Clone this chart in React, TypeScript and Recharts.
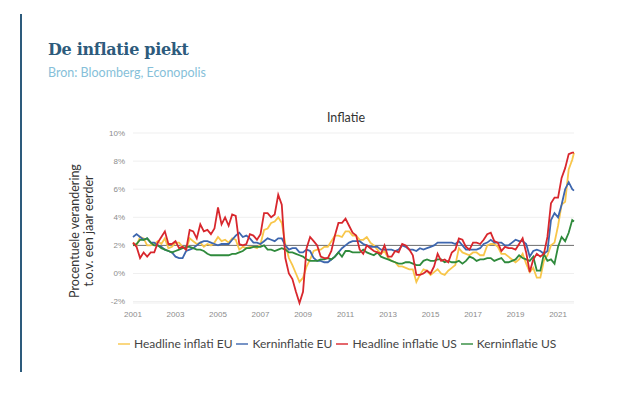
import React from "react";
import { LineChart, Line, XAxis, YAxis, CartesianGrid, ReferenceLine } from "recharts";

// months since Sep 2001, every two months, last point Jun 2022
const monthIdx: number[] = [];
for (let m = 0; m <= 248; m += 2) monthIdx.push(m);
monthIdx.push(249);

const tickYears = ["2001", "2003", "2005", "2007", "2009", "2011", "2013", "2015", "2017", "2019", "2021"];
const yTicks = [-2, 0, 2, 4, 6, 8, 10];

const headlineEU = [
  2.2, 2.0,
  2.6, 2.5, 2.0, 2.0, 2.1, 2.3,
  2.1, 2.5, 1.8, 1.9, 2.2, 2.2,
  1.9, 1.7, 2.5, 2.3, 2.1, 2.2,
  1.9, 2.1, 2.0, 2.2, 2.6, 2.3,
  2.4, 2.2, 2.5, 2.4, 1.7, 1.9,
  1.8, 1.9, 1.9, 1.8, 2.1, 3.1,
  3.2, 3.6, 3.7, 4.0, 3.6, 2.1,
  1.1, 0.6, 0.0, -0.6, -0.3, 0.5,
  1.0, 1.6, 1.7, 1.7, 1.9, 1.9,
  2.3, 2.7, 2.7, 2.6, 3.0, 3.0,
  2.7, 2.7, 2.4, 2.4, 2.6, 2.2,
  2.0, 1.7, 1.4, 1.6, 1.1, 0.9,
  0.8, 0.5, 0.5, 0.4, 0.3, 0.3,
  -0.6, -0.1, 0.3, 0.2, -0.1, 0.1,
  0.3, 0.0, -0.1, 0.2, 0.4, 0.6,
  1.8, 1.5, 1.4, 1.3, 1.5, 1.5,
  1.3, 1.3, 2.0, 2.1, 2.1, 1.9,
  1.4, 1.4, 1.2, 1.0, 0.8, 1.0,
  1.4, 0.7, 0.1, 0.4, -0.3, -0.3,
  0.9, 1.3, 2.0, 2.2, 3.4, 4.9,
  5.1, 7.4, 8.1, 8.6,
];

const kernEU = [
  2.6, 2.8,
  2.6, 2.4, 2.5, 2.2, 2.2, 2.0,
  1.9, 1.7, 1.6, 1.5, 1.2, 1.1,
  1.1, 1.6, 1.7, 1.8, 2.0, 2.2,
  2.3, 2.3, 2.2, 2.1, 2.0, 2.1,
  2.1, 2.1, 2.4, 2.7, 2.9, 2.6,
  2.7, 2.5, 2.2, 2.2, 2.1, 2.3,
  2.5, 2.4, 2.3, 2.5, 2.5, 2.0,
  1.7, 1.8, 1.8, 1.5, 1.5, 1.7,
  1.6, 1.1, 0.9, 0.9, 0.8, 0.8,
  1.0, 1.2, 1.5, 1.8, 2.0, 2.2,
  2.3, 2.3, 2.3, 2.1, 2.0, 1.9,
  1.9, 1.9, 1.7, 1.7, 1.7, 1.7,
  1.6, 1.7, 2.0, 1.9, 1.7, 1.7,
  1.6, 1.8, 1.7, 1.8, 1.9, 2.0,
  2.2, 2.2, 2.2, 2.2, 2.2, 2.1,
  2.3, 2.0, 1.7, 1.7, 1.7, 1.7,
  1.8, 2.1, 2.2, 2.4, 2.2, 2.2,
  2.2, 2.0, 2.0, 2.2, 2.4, 2.3,
  2.3, 2.1, 1.2, 1.6, 1.7, 1.6,
  1.4, 1.6, 3.8, 4.3, 4.0, 4.9,
  6.0, 6.5, 6.0, 5.9,
];

const headlineUS = [
  2.2, 1.9,
  1.1, 1.5, 1.2, 1.5, 1.5, 2.2,
  2.6, 3.0, 2.1, 2.1, 2.3, 1.8,
  1.9, 1.7, 3.1, 3.0, 2.5, 3.5,
  3.0, 3.1, 2.8, 3.2, 4.7, 3.5,
  4.0, 3.4, 4.2, 4.1, 2.1, 2.0,
  2.1, 2.8, 2.7, 2.4, 2.8, 4.3,
  4.3, 4.0, 4.2, 5.6, 4.9, 1.1,
  0.0, -0.4, -1.3, -2.1, -1.3, 1.8,
  2.6, 2.3, 2.0, 1.2, 1.1, 1.1,
  1.6, 2.7, 3.6, 3.6, 3.9, 3.4,
  2.9, 2.7, 1.7, 1.4, 2.0, 1.8,
  1.6, 1.5, 1.4, 2.0, 1.2, 1.2,
  1.6, 1.5, 2.1, 2.0, 1.7, 1.3,
  -0.1, -0.1, 0.0, 0.2, 0.0, 0.5,
  1.4, 0.9, 1.0, 0.8, 1.5, 1.7,
  2.5, 2.4, 1.9, 1.7, 2.2, 2.2,
  2.1, 2.4, 2.8, 2.9, 2.3, 2.2,
  1.6, 1.9, 1.8, 1.8, 1.7, 2.1,
  2.5, 1.5, 0.1, 1.0, 1.4, 1.2,
  1.4, 2.6, 5.0, 5.4, 5.4, 6.8,
  7.5, 8.5, 8.6, 8.6,
];

const kernUS = [
  2.0, 2.1,
  2.4, 2.4, 2.5, 2.2, 2.0, 2.0,
  1.8, 1.7, 1.6, 1.5, 1.6, 1.7,
  1.8, 1.9, 1.9, 1.8, 1.7, 1.7,
  1.6, 1.4, 1.3, 1.3, 1.3, 1.3,
  1.3, 1.3, 1.4, 1.4, 1.5, 1.6,
  1.8, 1.8, 1.9, 1.9, 1.9, 2.0,
  1.7, 1.7, 1.6, 1.7, 1.8, 1.7,
  1.5, 1.5, 1.4, 1.3, 1.2, 1.0,
  0.9, 0.9, 0.9, 1.0, 1.0, 1.1,
  1.0, 1.2, 1.5, 1.2, 1.6, 1.6,
  1.5, 1.5, 1.5, 1.7, 1.5, 1.4,
  1.3, 1.5, 1.2, 1.1, 1.0, 0.9,
  0.8, 0.7, 0.7, 0.8, 0.8, 0.7,
  0.6, 0.6, 0.9, 1.0, 0.9, 0.9,
  1.0, 1.0, 0.8, 0.9, 0.8, 0.8,
  0.9, 0.7, 0.9, 1.2, 1.1, 0.9,
  1.0, 1.0, 1.1, 1.1, 0.9, 1.0,
  1.1, 0.8, 0.8, 0.9, 1.0, 1.3,
  1.1, 1.0, 0.9, 1.2, 0.2, 0.2,
  1.4, 0.9, 1.0, 0.7, 1.9, 2.6,
  2.3, 2.9, 3.8, 3.7,
];

const series = [
  { key: "headlineEU", name: "Headline inflati EU", color: "#f8c64a", values: headlineEU },
  { key: "kernEU", name: "Kerninflatie EU", color: "#3d66ae", values: kernEU },
  { key: "kernUS", name: "Kerninflatie US", color: "#2f8a3c", values: kernUS },
  { key: "headlineUS", name: "Headline inflatie US", color: "#d8272d", values: headlineUS },
];
const legendOrder = ["headlineEU", "kernEU", "headlineUS", "kernUS"];

const data = monthIdx.map((m, i) => {
  const row: Record<string, number> = { m };
  series.forEach((s) => { row[s.key] = s.values[i]; });
  return row;
});

const tickFont = { fontSize: 8, fill: "#8c8c8c", fontFamily: "Liberation Sans, Arial, sans-serif" };

export default function App() {
  return (
    <div style={{ position: "absolute", left: 0, top: 0, width: 618, height: 394, background: "#fff", fontFamily: "Lato, sans-serif" }}>
      <div style={{ position: "absolute", left: 20, top: 14, width: 2, height: 358, background: "#2d5b7c" }} />
      <div style={{ position: "absolute", left: 48, top: 40, fontSize: 16, letterSpacing: -0.3, fontWeight: 700, fontFamily: "DejaVu Serif, serif", color: "#2d5b7c", whiteSpace: "nowrap" }}>
        De inflatie piekt
      </div>
      <div style={{ position: "absolute", left: 48, top: 65, fontSize: 12.5, color: "#86bfd9", whiteSpace: "nowrap" }}>
        Bron: Bloomberg, Econopolis
      </div>
      <div style={{ position: "absolute", left: 246, width: 200, top: 110, fontSize: 12.5, color: "#333", textAlign: "center" }}>
        Inflatie
      </div>
      <div style={{
        position: "absolute", left: 82, top: 231, width: 180, transform: "translate(-50%, -50%) rotate(-90deg)",
        fontSize: 12.5, lineHeight: "14px", color: "#333", textAlign: "center", whiteSpace: "nowrap",
      }}>
        Procentuele verandering<br />t.o.v. een jaar eerder
      </div>

      <div style={{ position: "absolute", left: 0, top: 0 }}>
        <LineChart width={618} height={394} data={data} margin={{ top: 133, right: 44, bottom: 61, left: 0 }}>
          <CartesianGrid vertical={false} stroke="#efefef" />
          <XAxis
            dataKey="m" type="number" domain={[0, 249]}
            ticks={tickYears.map((_, i) => i * 24)}
            tickFormatter={(v: number) => tickYears[v / 24]}
            tick={tickFont} axisLine={false} tickLine={false} height={30}
          />
          <YAxis
            domain={[-2, 10]} ticks={yTicks} tickFormatter={(v: number) => `${v}%`}
            tick={tickFont} axisLine={false} tickLine={false} width={133}
          />
          <ReferenceLine y={2} stroke="#6f6f6f" strokeWidth={1} />
          {series.map((s) => (
            <Line
              key={s.key} type="linear" dataKey={s.key} name={s.name}
              stroke={s.color} strokeWidth={1.8} dot={false} isAnimationActive={false}
            />
          ))}
        </LineChart>
      </div>

      <div style={{ position: "absolute", left: 118, top: 336, display: "flex", alignItems: "center", fontSize: 12, color: "#444", whiteSpace: "nowrap" }}>
        {legendOrder.map((k) => {
          const s = series.find((x) => x.key === k)!;
          return (
            <div key={k} style={{ display: "flex", alignItems: "center", marginRight: 4 }}>
              <span style={{ display: "inline-block", width: 12, height: 2, background: s.color, opacity: 0.7, marginRight: 4 }} />
              <span>{s.name}</span>
            </div>
          );
        })}
      </div>
    </div>
  );
}
